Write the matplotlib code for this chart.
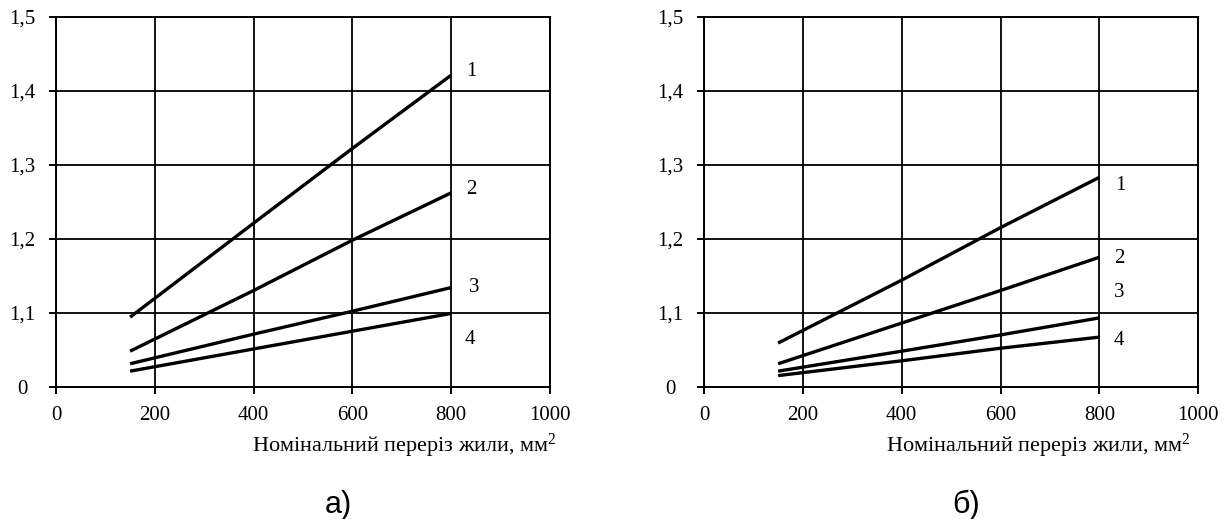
import matplotlib
matplotlib.use("Agg")
import matplotlib.pyplot as plt

# ---- data ----
x_pts = [150, 400, 600, 800]

a_series = {
    "1": [1.094, 1.221, 1.322, 1.421],
    "2": [1.048, 1.130, 1.198, 1.262],
    "3": [1.031, 1.071, 1.102, 1.134],
    "4": [1.021, 1.051, 1.075, 1.099],
}
b_series = {
    "1": [1.059, 1.144, 1.215, 1.283],
    "2": [1.031, 1.086, 1.130, 1.175],
    "3": [1.021, 1.048, 1.070, 1.093],
    "4": [1.015, 1.035, 1.052, 1.067],
}

x_ticks = [0, 200, 400, 600, 800, 1000]
x_tick_labels = ["0", "200", "400", "600", "800", "1000"]
y_ticks = [1.0, 1.1, 1.2, 1.3, 1.4, 1.5]
y_tick_labels = ["0", "1,1", "1,2", "1,3", "1,4", "1,5"]

xlabel_text = "Номінальний переріз жили, мм$^2$"
panel_names = ["а)", "б)"]

# curve number label placement (data coords)
a_label_x = [840, 840, 846, 838]
a_label_y = [1.426, 1.266, 1.134, 1.064]
b_label_x = [842, 840, 840, 840]
b_label_y = [1.272, 1.173, 1.127, 1.062]

plt.rcParams["font.family"] = ["Liberation Serif", "DejaVu Serif"]
plt.rcParams["mathtext.fontset"] = "custom"
plt.rcParams["mathtext.rm"] = "Liberation Serif"
plt.rcParams["mathtext.it"] = "Liberation Serif"
plt.rcParams["mathtext.default"] = "rm"

W, H = 1231, 519
fig = plt.figure(figsize=(W / 100, H / 100), dpi=100)

def px_axes(x0, y_top, x1, y_bot):
    return [x0 / W, 1 - y_bot / H, (x1 - x0) / W, (y_bot - y_top) / H]

ax_a = fig.add_axes(px_axes(56, 16.7, 550, 386.7))
ax_b = fig.add_axes(px_axes(704, 16.7, 1198.3, 386.7))

panels = [
    (ax_a, 56, a_series, a_label_x, a_label_y, 404, panel_names[0], 338),
    (ax_b, 704, b_series, b_label_x, b_label_y, 1038, panel_names[1], 966),
]

for ax, left_px, series, lx, ly, xl_center, pname, pcenter in panels:
    ax.set_xlim(0, 1000)
    ax.set_ylim(1.0, 1.5)
    ax.set_xticks(x_ticks)
    ax.set_xticklabels(x_tick_labels)
    ax.set_yticks(y_ticks)
    ax.set_yticklabels(y_tick_labels)
    ax.grid(True, color="black", linewidth=1.3)
    ax.set_axisbelow(True)
    for sp in ax.spines.values():
        sp.set_linewidth(1.4)
        sp.set_color("black")
    ax.tick_params(axis="both", direction="out", length=5, width=1.4,
                   labelsize=15, colors="black")
    ax.tick_params(axis="x", pad=9)
    ax.tick_params(axis="y", pad=19)
    for t in ax.get_yticklabels():
        t.set_horizontalalignment("center")

    for (name, vals), tx, ty in zip(series.items(), lx, ly):
        ax.plot(x_pts, vals, color="black", linewidth=2.4, solid_capstyle="butt")
        ax.text(tx, ty, name, fontsize=15, ha="center", va="center")

    ax.set_xlabel(xlabel_text, fontsize=16)
    ax.xaxis.set_label_coords((xl_center - left_px) / 494, (386.7 - 446) / 370)
    ax.xaxis.label.set_verticalalignment("center")
    ax.xaxis.label.set_horizontalalignment("center")

    fig.text(pcenter / W, 1 - 513 / H, pname, fontsize=22,
             family=["Liberation Sans Narrow", "Liberation Sans"],
             ha="center", va="baseline")

fig.savefig("out.png", dpi=100, facecolor="white")
